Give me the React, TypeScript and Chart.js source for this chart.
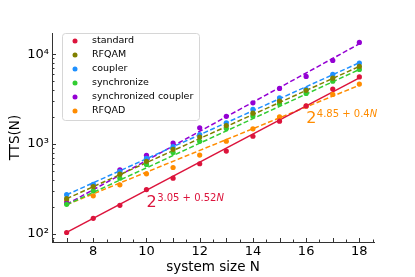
import React, { useEffect, useRef } from 'react';
import { Chart, registerables } from 'chart.js';
Chart.register(...registerables);

const FONT = 'DejaVu Sans';

const sizes = [7, 8, 9, 10, 11, 12, 13, 14, 15, 16, 17, 18];
const seriesNames = ['standard', 'RFQAM', 'coupler', 'synchronize', 'synchronized coupler', 'RFQAD'];
const seriesColors = ['#DC143C', '#808000', '#1E90FF', '#32CD32', '#9400D3', '#FF8C00'];

const standard = [103, 148, 207, 310, 415, 601, 832, 1216, 1790, 2650, 4080, 5580];
const rfqam = [245, 335, 460, 640, 870, 1190, 1600, 2200, 3000, 3950, 5400, 7300];
const coupler = [272, 355, 490, 690, 930, 1270, 1720, 2420, 3250, 4050, 5950, 7950];
const synchronize = [212, 300, 415, 590, 800, 1070, 1480, 2050, 2800, 3650, 5000, 6750];
const syncCoupler = [220, 345, 515, 745, 1020, 1510, 2030, 2870, 4150, 5650, 8500, 13500];
const rfqad = [232, 264, 350, 464, 546, 750, 1070, 1470, 2000, 2630, 3560, 4640];

// exponential fits TTS = 2^(a + b N)
const fitA = [3.05, 4.82, 4.97, 4.53, 3.95, 4.9];
const fitB = [0.52, 0.4452, 0.4445, 0.455, 0.54, 0.402];
const fitDashed = [false, true, true, true, true, true];

const xTicks = [8, 10, 12, 14, 16, 18];
const yTicks = [100, 1000, 10000];
const yTickLabels = ['10²', '10³', '10⁴'];

const xTitle = 'system size N';
const yTitle = 'TTS(N)';

// annotation labels: base, exponent constant part, anchor (N, TTS)
const annoBase = ['2', '2'];
const annoExpo = ['3.05 + 0.52', '4.85 + 0.4'];
const annoVar = ['N', 'N'];
const annoColor = ['#DC143C', '#FF8C00'];
const annoAtN = [10.0, 16.0];
const annoAtY = [196, 1730];

const allSeries = [standard, rfqam, coupler, synchronize, syncCoupler, rfqad];

const overlayPlugin = {
  id: 'overlay',
  afterDraw(chart: any) {
    const ctx = chart.ctx;
    const xs = chart.scales.x;
    const ys = chart.scales.y;
    const area = chart.chartArea;
    ctx.save();
    ctx.strokeStyle = '#333';
    ctx.lineWidth = 1;
    // x ticks (inward)
    for (let v = Math.ceil(xs.min * 2) / 2; v <= xs.max; v += 0.5) {
      const px = Math.round(xs.getPixelForValue(v)) + 0.5;
      const major = Number.isInteger(v);
      ctx.beginPath();
      ctx.moveTo(px, area.bottom);
      ctx.lineTo(px, area.bottom - (major ? 4 : 2.5));
      ctx.stroke();
    }
    // y ticks (inward)
    for (let d = 10; d <= 100000; d *= 10) {
      for (let m = 1; m <= 9; m++) {
        const v = d * m;
        if (v < ys.min || v > ys.max) continue;
        const py = Math.round(ys.getPixelForValue(v)) + 0.5;
        ctx.beginPath();
        ctx.moveTo(area.left, py);
        ctx.lineTo(area.left + (m === 1 ? 4 : 2.5), py);
        ctx.stroke();
      }
    }
    // legend
    const lx = 62, ly = 33, lw = 137, lh = 87;
    ctx.beginPath();
    ctx.roundRect(lx + 0.5, ly + 0.5, lw, lh, 3);
    ctx.fillStyle = 'rgba(255,255,255,0.8)';
    ctx.fill();
    ctx.strokeStyle = '#d6d6d6';
    ctx.stroke();
    ctx.font = `9.5px "${FONT}"`;
    ctx.textBaseline = 'middle';
    ctx.textAlign = 'left';
    seriesNames.forEach((name, i) => {
      const cy = 41 + i * 14;
      ctx.beginPath();
      ctx.arc(75, cy, 2.5, 0, Math.PI * 2);
      ctx.fillStyle = seriesColors[i];
      ctx.fill();
      ctx.fillStyle = '#000';
      ctx.fillText(name, 92, cy);
    });
    // annotations
    ctx.textBaseline = 'alphabetic';
    annoBase.forEach((b, i) => {
      let x = xs.getPixelForValue(annoAtN[i]);
      const y = ys.getPixelForValue(annoAtY[i]);
      ctx.fillStyle = annoColor[i];
      ctx.font = `16px "${FONT}"`;
      ctx.fillText(b, x, y);
      x += ctx.measureText(b).width + 0.5;
      ctx.font = `10px "${FONT}"`;
      ctx.fillText(annoExpo[i], x, y - 6);
      x += ctx.measureText(annoExpo[i]).width;
      ctx.font = `italic 10px "${FONT}"`;
      ctx.fillText(annoVar[i], x, y - 6);
    });
    ctx.restore();
  },
};

export default function App() {
  const ref = useRef<HTMLCanvasElement | null>(null);
  useEffect(() => {
    document.body.style.margin = '0';
    const canvas = ref.current;
    if (!canvas) return;
    const datasets: any[] = [];
    allSeries.forEach((vals, i) => {
      datasets.push({
        label: seriesNames[i],
        type: 'scatter',
        data: sizes.map((n, k) => ({ x: n, y: vals[k] })),
        backgroundColor: seriesColors[i],
        borderColor: seriesColors[i],
        pointRadius: 2.6,
        pointBorderWidth: 0,
        showLine: false,
      });
    });
    allSeries.forEach((_, i) => {
      const n0 = sizes[0];
      const n1 = sizes[sizes.length - 1];
      datasets.push({
        label: seriesNames[i] + ' fit',
        type: 'line',
        data: [
          { x: n0, y: Math.pow(2, fitA[i] + fitB[i] * n0) },
          { x: n1, y: Math.pow(2, fitA[i] + fitB[i] * n1) },
        ],
        borderColor: seriesColors[i],
        borderWidth: 1.5,
        borderDash: fitDashed[i] ? [5, 2.5] : [],
        pointRadius: 0,
        fill: false,
      });
    });
    const chart = new Chart(canvas, {
      type: 'scatter',
      data: { datasets },
      options: {
        animation: false,
        responsive: false,
        maintainAspectRatio: false,
        layout: { padding: { top: 33, right: 41, left: 0, bottom: 0 } },
        plugins: { legend: { display: false }, tooltip: { enabled: false } },
        scales: {
          x: {
            type: 'linear',
            min: 6.45,
            max: 18.55,
            grid: { display: false, drawTicks: false },
            border: { display: true, color: '#333', width: 1 },
            ticks: { font: { family: FONT, size: 13 }, color: '#000', padding: 2, maxRotation: 0, autoSkip: false },
            afterBuildTicks: (s: any) => { s.ticks = xTicks.map((v) => ({ value: v })); },
            afterFit: (s: any) => { s.height = 35; },
            title: { display: true, text: xTitle, font: { family: FONT, size: 13.5 }, color: '#000', padding: { top: 0, bottom: 1 } },
          },
          y: {
            type: 'logarithmic',
            min: 80.7,
            max: 17200,
            grid: { display: false, drawTicks: false },
            border: { display: true, color: '#333', width: 1 },
            ticks: {
              font: { family: FONT, size: 13 },
              color: '#000',
              padding: 3,
              autoSkip: false,
              callback: (v: any) => {
                const idx = yTicks.indexOf(Number(v));
                return idx >= 0 ? yTickLabels[idx] : '';
              },
            },
            afterBuildTicks: (s: any) => { s.ticks = yTicks.map((v) => ({ value: v })); },
            afterFit: (s: any) => { s.width = 52; },
            title: { display: true, text: yTitle, font: { family: FONT, size: 13.5 }, color: '#000', padding: { top: 7, bottom: 0 } },
          },
        },
      },
      plugins: [overlayPlugin],
    } as any);
    return () => chart.destroy();
  }, []);
  return (
    <div style={{ width: 415, height: 277 }}>
      <canvas ref={ref} width={415} height={277} style={{ display: 'block' }} />
    </div>
  );
}
